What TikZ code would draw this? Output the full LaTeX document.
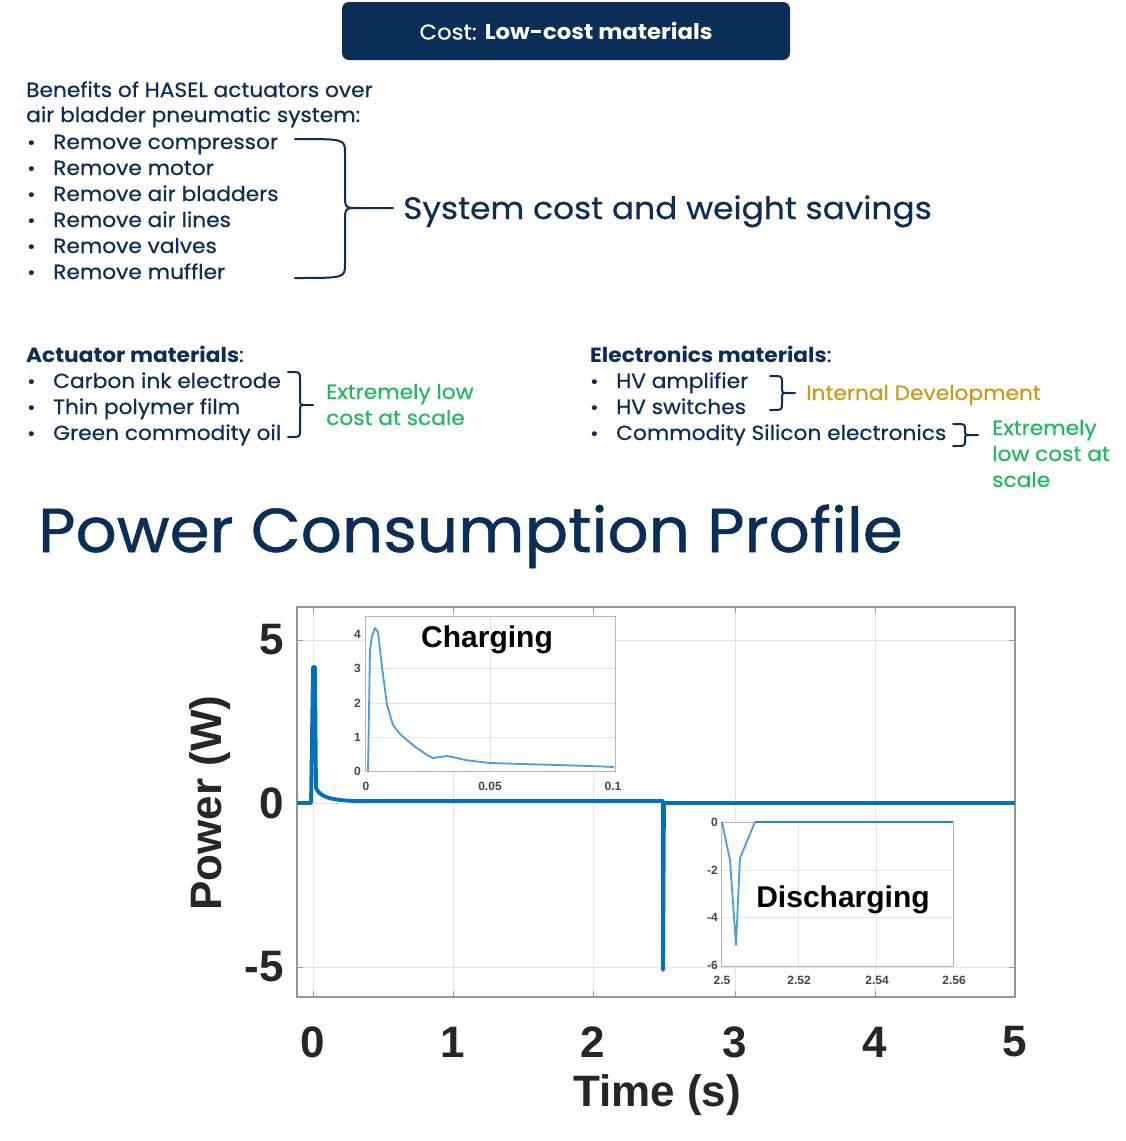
\documentclass[tikz,border=0pt]{standalone}
\usepackage{fontspec}
\setmainfont{Poppins}[FakeStretch=1.06, UprightFeatures={FakeBold=0.5}]
\newfontfamily\titlefont{Poppins}[FakeStretch=1.04, FakeBold=0.8]
\newfontfamily\plotfont{Liberation Sans}
\usetikzlibrary{calc}
\definecolor{navy}{RGB}{10,46,88}
\definecolor{lgreen}{RGB}{36,184,92}
\definecolor{gold}{RGB}{204,154,22}
\definecolor{mblue}{RGB}{0,114,189}
\definecolor{iblue}{RGB}{72,158,222}
\definecolor{gridc}{RGB}{228,228,228}
\definecolor{axc}{RGB}{150,150,150}
\definecolor{tickc}{RGB}{70,70,70}
\newcommand{\bracefig}[7]{%
  \draw[bracestyle] (#1,#3) .. controls (#2,#3) .. (#2,{#3+#7}) -- (#2,{#5-#7})
    .. controls (#2,#5) .. ({#2+#7},#5) -- (#6,#5) -- ({#2+#7},#5)
    .. controls (#2,#5) .. (#2,{#5+#7}) -- (#2,{#4-#7}) .. controls (#2,#4) .. (#1,#4);}
\tikzset{
  bracestyle/.style={draw=navy, line width=2pt, line join=round, line cap=round},
  body/.style={anchor=base west, inner sep=0pt, text=navy, font=\fontsize{20.5}{24}\selectfont},
  bul/.style={anchor=base west, inner sep=0pt, text=navy, font=\fontsize{19}{22}\selectfont},
  plotlab/.style={inner sep=0pt, text=black!85, font=\plotfont\bfseries\fontsize{44}{48}\selectfont},
  insetlab/.style={inner sep=0pt, text=tickc, font=\plotfont\bfseries\fontsize{12}{14}\selectfont},
  gridline/.style={draw=gridc, line width=0.8pt},
  axline/.style={draw=axc, line width=1.2pt},
}
\begin{document}
\begin{tikzpicture}[x=1pt,y=-1pt]
\useasboundingbox (0,0) rectangle (1125,1141);
\fill[white] (0,0) rectangle (1125,1141);

% header
\node[fill=navy, rounded corners=7pt, minimum width=448pt, minimum height=58pt, inner sep=0pt,
  text=white, font=\fontsize{21.5}{24}\selectfont] (hdr) at (566,31) {Cost: \textbf{Low-cost materials}};

% benefits block
\node[body] (ben1) at (26,97) {Benefits of HASEL actuators over};
\node[body] (ben2) at (26,122) {air bladder pneumatic system:};
\foreach \yy/\tt [count=\i] in {149/Remove compressor,175/Remove motor,201/Remove air bladders,227/Remove air lines,253/Remove valves,279/Remove muffler}{
  \node[bul] (bb\i) at (27,\yy) {\textbullet};
  \node[body] (bt\i) at (53,\yy) {\tt};
}
\bracefig{295}{345}{139}{278}{208}{393}{14}
\node[anchor=base west, inner sep=0pt, text=navy, font=\fontsize{31}{34}\selectfont] (sys) at (403,219) {System cost and weight savings};

% actuator materials
\node[body] (act) at (26,362) {\textbf{Actuator materials}:};
\foreach \yy/\tt [count=\i] in {388/Carbon ink electrode,414/Thin polymer film,440/Green commodity oil}{
  \node[bul] (ab\i) at (27,\yy) {\textbullet};
  \node[body] (at\i) at (53,\yy) {\tt};
}
\bracefig{288}{300}{372}{437}{405}{313}{6}
\node[body, text=lgreen] (ext1) at (326,399) {Extremely low};
\node[body, text=lgreen] (ext2) at (326,425) {cost at scale};

% electronics materials
\node[body] (ele) at (590,362) {\textbf{Electronics materials}:};
\foreach \yy/\tt [count=\i] in {388/HV amplifier,414/HV switches,440/Commodity Silicon electronics}{
  \node[bul] (eb\i) at (590,\yy) {\textbullet};
  \node[body] (et\i) at (616,\yy) {\tt};
}
\bracefig{770}{782}{376}{410}{393}{795}{6}
\node[body, text=gold] (intd) at (806,400) {Internal Development};
\bracefig{953}{965}{424}{446}{435}{978}{5}
\node[body, text=lgreen] (ex1) at (992,435) {Extremely};
\node[body, text=lgreen] (ex2) at (992,461) {low cost at};
\node[body, text=lgreen] (ex3) at (992,487) {scale};

% title
\node[anchor=base west, inner sep=0pt, text=navy, font=\titlefont\fontsize{62}{68}\selectfont] (title) at (38,552) {Power Consumption Profile};

% ---------- main plot ----------
\foreach \xx in {313,453,593,735,875}{\draw[gridline] (\xx,607) -- (\xx,997);}
\foreach \yy in {640,803,967}{\draw[gridline] (297,\yy) -- (1015,\yy);}
\foreach \xx in {313,453,593,735,875}{\draw[axc, line width=0.8pt] (\xx,607) -- (\xx,613) (\xx,997) -- (\xx,991);}
\foreach \yy in {640,803,967}{\draw[axc, line width=0.8pt] (297,\yy) -- (303,\yy) (1015,\yy) -- (1009,\yy);}
\draw[axline] (297,607) rectangle (1015,997);

% main data
\draw[mblue, line width=3.8pt, line join=round] (297,803) -- (311,803) -- (313,667) -- (315,667) -- (316,788)
  .. controls (320,797) and (330,800) .. (355,801) -- (663,801) -- (663,970) -- (664,803) -- (1015,803);

% inset 1 (charging)
\fill[white] (365,616) rectangle (615,771);
\draw[gridline] (490,616) -- (490,771);
\foreach \yy in {668,703,737}{\draw[gridline] (365,\yy) -- (615,\yy);}
\draw[draw=axc!70, line width=0.8pt] (365,616) rectangle (615,771);
\draw[iblue, line width=1.8pt, line join=round] (368,771) -- (370,650) -- (372,636) -- (375,628) -- (378,632)
  -- (382,667) -- (387,705) -- (393,725) -- (400,734) -- (407,740) -- (414,746) -- (420,750) -- (427,755)
  -- (433,758) -- (440,757) -- (447,756) -- (457,758) -- (465,760) -- (473,761) -- (490,763) -- (523,764)
  -- (557,765) -- (590,766) -- (614,767);
\foreach \v/\yy in {0/771,1/737,2/703,3/668,4/634}{\node[insetlab, anchor=east] (ily\v) at (361,\yy) {\v};}
\node[insetlab] (ilx0) at (366,786) {0};
\node[insetlab] (ilx1) at (490,786) {0.05};
\node[insetlab] (ilx2) at (613,786) {0.1};
\node[inner sep=0pt, font=\plotfont\bfseries\fontsize{30}{34}\selectfont] (chg) at (487,640) {Charging};

% inset 2 (discharging)
\fill[white] (721,822) rectangle (953,966);
\foreach \xx in {798,876}{\draw[gridline] (\xx,822) -- (\xx,966);}
\foreach \yy in {870,917}{\draw[gridline] (721,\yy) -- (953,\yy);}
\draw[draw=axc!70, line width=0.8pt] (721,822) rectangle (953,966);
\draw[iblue, line width=1.8pt, line join=round] (722,822) -- (730,860) -- (736,945) -- (740,858) -- (755,822);
\draw[mblue!85, line width=2.6pt] (755,822) -- (953,822);
\foreach \v/\yy in {0/822,-2/870,-4/917,-6/965}{\node[insetlab, anchor=east] (ily\v) at (718,\yy) {\v};}
\node[insetlab] (jlx0) at (722,980) {2.5};
\node[insetlab] (jlx1) at (799,980) {2.52};
\node[insetlab] (jlx2) at (877,980) {2.54};
\node[insetlab] (jlx3) at (954,980) {2.56};
\node[inner sep=0pt, font=\plotfont\bfseries\fontsize{30}{34}\selectfont] (dchg) at (843,900) {Discharging};

% axis labels
\node[plotlab, anchor=east] (y5) at (284,640) {5};
\node[plotlab, anchor=east] (y0) at (284,803) {0};
\node[plotlab, anchor=east] (ym5) at (284,967) {-5};
\foreach \v/\xx in {0/313,1/453,2/593,3/735,4/875,5/1015}{\node[plotlab] (xl\v) at (\xx,1042) {\v};}
\node[plotlab] (xlab) at (657,1095) {Time (s)};
\node[plotlab, rotate=90] (ylab) at (210,803) {Power (W)};
\end{tikzpicture}
\end{document}
